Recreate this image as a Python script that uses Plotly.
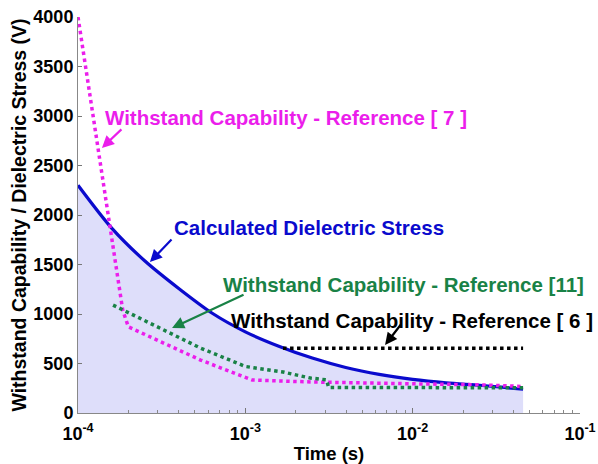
import plotly.graph_objects as go

# Calculated dielectric stress across the gap (V) versus time (s)
t_stress = [1.0e-4, 1.585e-4, 2.512e-4, 3.981e-4, 6.31e-4, 1.0e-3, 1.585e-3, 2.512e-3,
            3.981e-3, 6.31e-3, 1.0e-2, 1.585e-2, 2.512e-2, 3.548e-2, 4.57e-2]
v_stress = [2300, 1870, 1535, 1260, 1010, 820, 675, 555,
            460, 390, 340, 305, 280, 258, 240]

# Withstand capability, Reference [7]
t_ref7 = [1.0e-4, 1.85e-4, 2.0e-4, 5.4e-4, 1.1e-3, 2.5e-3, 1.0e-2, 2.5e-2, 4.57e-2]
v_ref7 = [4000, 1040, 870, 535, 333, 313, 295, 285, 268]

# Withstand capability, Reference [11]
t_ref11 = [1.62e-4, 5.4e-4, 1.0e-3, 1.68e-3, 2.45e-3, 3.05e-3, 3.15e-3, 4.57e-2]
v_ref11 = [1090, 656, 470, 414, 353, 335, 258, 255]

# Withstand capability, Reference [6]
t_ref6 = [1.68e-3, 4.57e-2]
v_ref6 = [655, 655]

x_tick_vals = [1e-4, 1e-3, 1e-2, 1e-1]
x_tick_text = ["10<sup>-4</sup>", "10<sup>-3</sup>", "10<sup>-2</sup>", "10<sup>-1</sup>"]
x_minor_vals = [m * 10.0 ** e for e in (-4, -3, -2) for m in range(2, 10)]
y_tick_vals = [0, 500, 1000, 1500, 2000, 2500, 3000, 3500, 4000]
y_tick_text = [str(v) for v in y_tick_vals]

BLUE = "rgb(10,10,205)"
MAGENTA = "rgb(235,30,235)"
GREEN = "rgb(25,130,70)"
BLACK = "rgb(0,0,0)"
FONT = "Liberation Sans, Arial, sans-serif"

fig = go.Figure()

fig.add_trace(go.Scatter(
    x=t_stress, y=v_stress, mode="lines",
    line=dict(color=BLUE, width=3.2, shape="spline", smoothing=0.8),
    fill="tozeroy", fillcolor="rgb(222,222,250)",
    name="Calculated Dielectric Stress"))
fig.add_trace(go.Scatter(
    x=t_ref7, y=v_ref7, mode="lines",
    line=dict(color=MAGENTA, width=3.5, dash="dot"),
    name="Reference [7]"))
fig.add_trace(go.Scatter(
    x=t_ref11, y=v_ref11, mode="lines",
    line=dict(color=GREEN, width=3.5, dash="dot"),
    name="Reference [11]"))
fig.add_trace(go.Scatter(
    x=t_ref6, y=v_ref6, mode="lines",
    line=dict(color=BLACK, width=3.5, dash="dot"),
    name="Reference [6]"))

# text labels (x positions in log10 units on the log axis)
labels = [
    ("Withstand Capability - Reference [ 7 ]", MAGENTA, -2.757, 2980),
    ("Calculated Dielectric Stress", BLUE, -2.619, 1869),
    ("Withstand Capability - Reference [11]", GREEN, -2.057, 1303),
    ("Withstand Capability - Reference [ 6 ]", BLACK, -2.004, 939),
]
for text, color, lx, ly in labels:
    fig.add_annotation(x=lx, y=ly, xref="x", yref="y", text="<b>" + text + "</b>",
                       showarrow=False, font=dict(family=FONT, size=20.5, color=color))

# pointer arrows from each label to its curve
arrows = [
    (MAGENTA, -3.857, 2677, 21, -20),
    (BLUE, -3.570, 1525, 23, -24),
    (GREEN, -3.438, 859, 73, -34),
    (BLACK, -2.165, 687, 17, -22),
]
for color, hx, hy, axp, ayp in arrows:
    fig.add_annotation(x=hx, y=hy, xref="x", yref="y", text="", showarrow=True,
                       ax=axp, ay=ayp, arrowhead=2, arrowsize=1.1, arrowwidth=2.2,
                       arrowcolor=color, standoff=0)

fig.update_layout(
    width=598, height=464,
    margin=dict(l=78, r=18, t=17, b=51),
    paper_bgcolor="white", plot_bgcolor="white",
    showlegend=False,
    font=dict(family=FONT, color="black"),
)
fig.update_xaxes(
    type="log", range=[-4, -1], automargin=False,
    tickmode="array", tickvals=x_tick_vals, ticktext=x_tick_text,
    tickfont=dict(family=FONT, size=18, weight="bold"),
    ticklabelstandoff=4,
    ticks="inside", ticklen=5, tickcolor="#777",
    minor=dict(tickmode="array", tickvals=x_minor_vals, ticks="inside",
               ticklen=3, tickcolor="#888"),
    showline=True, linecolor="#888", linewidth=1, mirror=False,
    showgrid=False, zeroline=False,
    title=dict(text="<b>Time (s)</b>", font=dict(family=FONT, size=18.5), standoff=5),
)
fig.update_yaxes(
    range=[0, 4000], automargin=False,
    tickmode="array", tickvals=y_tick_vals, ticktext=y_tick_text,
    tickfont=dict(family=FONT, size=18, weight="bold"),
    ticks="inside", ticklen=4, tickcolor="#777",
    showline=True, linecolor="#888", linewidth=1, mirror=False,
    showgrid=False, zeroline=False,
    title=dict(text="<b>Withstand Capability / Dielectric Stress (V)</b>",
               font=dict(family=FONT, size=19.5), standoff=1),
)

fig.write_html("out.html")
